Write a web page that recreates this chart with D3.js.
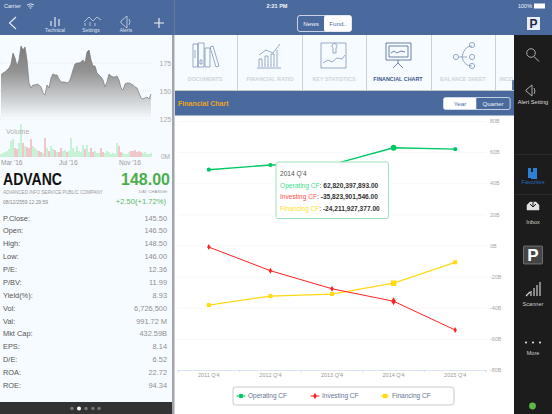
<!DOCTYPE html>
<html><head><meta charset="utf-8">
<script src="https://cdnjs.cloudflare.com/ajax/libs/d3/7.8.5/d3.min.js"></script>
<style>
html,body{margin:0;padding:0;background:#fff;overflow:hidden}
svg{display:block}
text{font-family:"Liberation Sans",Arial,sans-serif}
</style></head><body>
<svg id="s" width="552" height="414"></svg>
<script>
// ---- main chart data
const periods = ["2011 Q'4","2012 Q'4","2013 Q'4","2014 Q'4","2015 Q'4"];
const operatingCF = [48700000000,51700000000,52000000000,62820397893,61900000000];
const investingCF = [-1000000000,-16200000000,-27800000000,-35823901546,-54300000000];
const financingCF = [-38300000000,-32500000000,-31200000000,-24211927377,-10800000000];
const yTicks = [80,60,40,20,0,-20,-40,-60,-80];
const highlightIndex = 3;
// ---- mini chart data
const closePrices = [164.3,166.1,167,168.8,170.5,174.1,183.9,179.5,172.3,177.7,190.2,186.6,189.3,177.7,157.1,152.7,155.4,155.4,156.3,155.4,153.6,148.2,146.4,155.4,152.7,161.6,165.2,164.3,164.3,160.7,158,158,158,157.1,158,162.5,168.8,174.1,175,175,175.9,177.7,175,184.8,186.6,177.7,172.3,172.3,166.1,164.3,162.5,159.8,153.6,158,165.2,163.4,162.5,162.5,163.4,159.8,152.7,150.9,156.3,157.1,157.1,156.3,155.4,153.6,152.7,148.2,143.8,142.9,143.8,144.6,142.9,147.3];
const volumes = [3,4,5,6,8,16,18,9,8,14,33,14,11,10,9,18,11,9,7,6,5,4,19,9,6,11,8,7,5,5,9,6,7,5,6,19,9,5,11,6,5,12,8,12,5,9,5,6,4,4,9,5,4,6,5,3,4,3,14,11,5,4,3,3,5,6,6,7,5,6,5,4,5,3,3,4];
const priceTicks = [175,150,125];
const monthLabels = [["Mar '16",0],["Jul '16",29],["Nov '16",59]];
const statLabels = ["P.Close:","Open:","High:","Low:","P/E:","P/BV:","Yield(%):","Vol:","Val:","Mkt Cap:","EPS:","D/E:","ROA:","ROE:"];
const statValues = ["145.50","146.50","148.50","146.00","12.36","11.99","8.93","6,726,500","991.72 M","432.59B","8.14","6.52","22.72","94.34"];
const tabNames = ["DOCUMENTS","FINANCIAL RATIO","KEY STATISTICS","FINANCIAL CHART","BALANCE SHEET","INCOME"];
const sideItems = [["Alert Setting",104,"#ddd"],["Favorites",184,"#2468b8"],["Inbox",224,"#ccc"],["Scanner",306,"#ccc"],["More",355,"#ccc"]];

const BLUE="#4a6a9e", svg=d3.select("#s");
const rect=(p,x,y,w,h,f,extra={})=>{const r=p.append("rect").attr("x",x).attr("y",y).attr("width",w).attr("height",h).attr("fill",f);for(const k in extra)r.attr(k,extra[k]);return r;};
const text=(p,x,y,t,size,fill,anchor="start",weight="normal")=>p.append("text").attr("x",x).attr("y",y).attr("font-size",size).attr("fill",fill).attr("text-anchor",anchor).attr("font-weight",weight).text(t);
const path=(p,d,stroke,w=1,fill="none")=>p.append("path").attr("d",d).attr("stroke",stroke).attr("stroke-width",w).attr("fill",fill);

// Backgrounds
rect(svg,0,0,552,414,"#fff");
rect(svg,0,0,552,35,BLUE);
rect(svg,0,35,172,368,"#f6fbff");
rect(svg,0,402,172,12,"#333");
rect(svg,172,0,2.5,414,"#8a8f96").attr("opacity",.8);
rect(svg,172,0,2,35,BLUE);
rect(svg,175,35,339,55,"#f6fbff");
rect(svg,175,91,339,24.5,BLUE);
rect(svg,514,35,38,379,"#1c1c1c");
rect(svg,512,80,2,35,BLUE).attr("opacity",.9);

// Status + nav
text(svg,4,8,"Carrier",5.5,"#e6ecf5");
path(svg,"M27 5 q3.5 -2.5 7 0 M28.5 6.5 q2 -1.5 4 0","#e6ecf5",.9);
svg.append("circle").attr("cx",30.5).attr("cy",8).attr("r",.8).attr("fill","#e6ecf5");
text(svg,277,8,"2:21 PM",5.5,"#f2f5fa","middle","bold");
text(svg,518,8,"100%",5.5,"#f2f5fa");
rect(svg,534,3.5,11,5,"#fff");
rect(svg,527,17,13,13,"#e9edf5");
text(svg,533.5,28,"P",12,"#1c2b4a","middle","bold");
path(svg,"M16 17 L9.5 23 L16 29","#e8eef6",1.1);
path(svg,"M154 23 h10 M159 18 v10","#f0f4fa",1.1);
path(svg,"M51 21 v5 M55 17 v10 M59 19 v7","#dfe6f2",1.2);
text(svg,55,32,"Technical",4.8,"#dfe6f2","middle");
path(svg,"M84 22 l5 -5 l4 4 l4 -4 l4 3 M85 26v-3 M90 26v-4 M95 26v-3","#dfe6f2",.7);
text(svg,91,32,"Settings",4.8,"#dfe6f2","middle");
path(svg,"M121 21 l6 -5 v12 l-6 -5 z M129 19 q2 3 0 6","#dfe6f2",.7);
text(svg,126,32,"Alerts",4.8,"#dfe6f2","middle");

// News / Fund segmented control
rect(svg,297.5,15.5,54,16,"none",{stroke:"#e8eef6","stroke-width":.8,rx:2.5});
rect(svg,324,15.5,27.5,16,"#fff",{rx:2});
text(svg,311,25.5,"News",6.2,"#f0f4fa","middle");
text(svg,338,25.5,"Fund..",6.2,BLUE,"middle");

// Tabs
const tabCx=[205,270,334,398,463,499];
tabNames.forEach((n,i)=>{
  const g=svg.append("g");
  if(i<5) text(g,tabCx[i],81,n,5.4,i===3?"#3c5a8c":"#cfd4da","middle","bold");
  else text(g,499.5,81,"INCO",5.4,"#cfd4da","start","bold");
});
[237,302,366,431,495].forEach(x=>rect(svg,x,35,.8,55,"#c2c7cc"));
rect(svg,175,90,339,1,"#c2c7cc");
path(svg,"M193 44 h5 v23 h-5 z M198 43 h6 v24 h-6 z M205 48 h5 v19 h-5 z M210 47 l3 -1 l6 20 l-3 1 z M200 60 h2 v4 h-2z M195 50 v8","#7088b0",.7);
path(svg,"M257 68 h24 M259 67 v-8 h3 v8 M265 67 v-11 h3 v11 M271 67 v-13 h3 v13 M277 67 v-17 M259 55 l7 -5 l7 3 l7 -9","#7088b0",.7);
path(svg,"M321 43 h25 v25 h-25 z M323 63 l5 -3 l4 2 l5 -4 l5 1 l3 -4 M333 48 a2.5 2.5 0 1 1 3 0 v5 h-3 z","#7088b0",.7);
path(svg,"M386 43 h25 v17 h-25 z M389 46 h19 v11 h-19 z M391 53 l3 -2 l3 2 l4 -2 l4 1 M398 60 v3 M398 63 l-5 5 M398 63 l5 5","#4a6690",.8);
path(svg,"M459 57 h3 q2 -11 10 -11 M462 57 h5 M462 57 q2 9 10 9","#7088b0",.7);
[[472,45],[472,57],[472,66],[456,57]].forEach(c=>svg.append("circle").attr("cx",c[0]).attr("cy",c[1]).attr("r",2.6).attr("fill","none").attr("stroke","#7088b0").attr("stroke-width",.7));

// Header
text(svg,178,106,"Financial Chart",7,"#e8a51f","start","bold");
rect(svg,443.5,97.5,66.5,12,"#fff",{rx:2,stroke:"#e8eef6","stroke-width":.6});
path(svg,"M476 97.5 h32 q2 0 2 2 v8 q0 2 -2 2 h-32 z","#e8eef6",.6,BLUE);
text(svg,460,106,"Year",6.2,BLUE,"middle");
text(svg,493,106,"Quarter",6.2,"#eef2f8","middle");

// ---- main chart
const x=d3.scaleBand().domain(periods).range([178,486]);
const y=d3.scaleLinear().domain([-80,80]).range([370,121]);
const cx=d=>x(d)+x.bandwidth()/2;
const chart=svg.append("g");
const yAxis=d3.axisRight(y).tickValues(yTicks).tickSize(308).tickFormat(d=>d+"B");
const gy=chart.append("g").attr("transform","translate(178,0)").call(yAxis);
gy.select(".domain").remove();
gy.selectAll("line").attr("stroke","#f3f3f3").attr("stroke-width",.7);
gy.selectAll("text").attr("x",312).attr("font-size",5.4).attr("fill","#a8a8a8").attr("font-family","Liberation Sans");
gy.selectAll(".tick").filter(d=>d===-80).select("line").attr("stroke","none");
const xAxis=d3.axisBottom(x).tickSize(2);
const gx=chart.append("g").attr("transform","translate(0,370)").call(xAxis);
gx.select(".domain").attr("stroke","#cfdcf0").attr("stroke-width",.8);
gx.selectAll(".tick line").attr("stroke","#cfdcf0").attr("transform",`translate(${-x.bandwidth()/2},0)`);
gx.selectAll("text").attr("font-size",5.5).attr("fill","#999").attr("dy",1.5).attr("font-family","Liberation Sans");
gx.append("line").attr("x1",486).attr("x2",486).attr("y1",0).attr("y2",2).attr("stroke","#cfdcf0");

const line=d3.line().x((d,i)=>cx(periods[i])).y(d=>y(d/1e9));
const series=[
 {name:"Operating CF",values:operatingCF,color:"#00c864",text:"#3fdc8c",sym:d3.symbolCircle,s:14,w:1.4},
 {name:"Investing CF",values:investingCF,color:"#ff2020",text:"#ff4d4d",sym:d3.symbolDiamond,s:10,w:1},
 {name:"Financing CF",values:financingCF,color:"#ffd912",text:"#ffe02a",sym:d3.symbolSquare,s:16,w:1.2}
];
series.slice().reverse().forEach(s=>{
  const g=chart.append("g");
  g.append("path").attr("d",line(s.values)).attr("fill","none").attr("stroke",s.color).attr("stroke-width",s.w);
  g.selectAll("path.m").data(s.values).enter().append("path").attr("class","m")
    .attr("transform",(d,i)=>`translate(${cx(periods[i])},${y(d/1e9)})`)
    .attr("d",(d,i)=>d3.symbol().type(s.sym).size(i===highlightIndex?s.s*1.9:s.s)())
    .attr("fill",s.color);
});

// Tooltip
const tip=svg.append("g");
rect(tip,276,162,112.5,56.5,"#fff",{rx:2,stroke:"#9fe0bd","stroke-width":1});
const fmt=d3.format(",.2f");
text(tip,280,175.5,periods[highlightIndex],6.6,"#555");
series.forEach((s,i)=>{
  const t=tip.append("text").attr("x",280).attr("y",187.6+i*11.8).attr("font-size",6.6);
  t.append("tspan").attr("fill",s.text).text(s.name);
  t.append("tspan").attr("fill","#333").text(": ");
  t.append("tspan").attr("fill","#333").attr("font-weight","bold").text(fmt(s.values[highlightIndex]).replace("\u2212","-"));
});

// Legend
const legendX=[241,315,385];
rect(svg,233,387,221,18,"#fff",{rx:2.5,stroke:"#bbb","stroke-width":.8});
series.forEach((s,i)=>{
  const g=svg.append("g");
  g.append("line").attr("x1",legendX[i]-4.5).attr("x2",legendX[i]+4.5).attr("y1",396).attr("y2",396).attr("stroke",s.color).attr("stroke-width",1);
  g.append("path").attr("transform",`translate(${legendX[i]},396)`).attr("d",d3.symbol().type(s.sym).size(s.s*1.2)()).attr("fill",s.color);
  text(g,legendX[i]+7,398.2,s.name,6.5,"#5f7594");
});

// ---- mini price chart
const defs=svg.append("defs");
const grad=defs.append("linearGradient").attr("id","pg").attr("x1",0).attr("x2",0).attr("y1",0).attr("y2",1);
grad.append("stop").attr("offset","0%").attr("stop-color","#7b7b7b");
grad.append("stop").attr("offset","35%").attr("stop-color","#939393");
grad.append("stop").attr("offset","100%").attr("stop-color","#f6fbff");
const px=d3.scaleLinear().domain([0,closePrices.length-1]).range([1,151]);
const py=d3.scaleLinear().domain([125,175]).range([119,63]);
priceTicks.forEach(v=>{
  svg.append("line").attr("x1",0).attr("x2",151).attr("y1",py(v)).attr("y2",py(v)).attr("stroke","#ccc").attr("stroke-width",.5).attr("stroke-dasharray","1,1.5");
  text(svg,159.5,py(v)+2.5,v,7,"#aaa");
});
svg.append("path").datum(closePrices).attr("fill","url(#pg)")
  .attr("d",d3.area().x((d,i)=>px(i)).y0(py(125)).y1(d=>py(d)));
svg.append("path").datum(closePrices).attr("fill","none").attr("stroke","#777").attr("stroke-width",.7)
  .attr("d",d3.line().x((d,i)=>px(i)).y(d=>py(d)));
const vy=d3.scaleLinear().domain([0,33]).range([157,124]);
svg.selectAll("rect.v").data(volumes).enter().append("rect").attr("class","v")
  .attr("x",(d,i)=>px(i)-.7).attr("width",1.4).attr("y",d=>vy(d)).attr("height",d=>vy(0)-vy(d))
  .attr("fill",(d,i)=>i>0&&closePrices[i]<closePrices[i-1]&&d>4?"#f0b0b6":"#b4eec4");
text(svg,6,134,"Volume",7,"#b0b0b0");
text(svg,161,159,"0M",6.5,"#aaa");
monthLabels.forEach(m=>text(svg,px(m[1]),165,m[0],6.5,"#999"));

// ---- quote panel
text(svg,3,185,"ADVANC",16,"#111","start","bold").attr("textLength",59).attr("lengthAdjust","spacingAndGlyphs");
text(svg,170,185,"148.00",16,"#4cae4c","end","bold");
text(svg,3,194,"ADVANCED INFO SERVICE PUBLIC COMPANY",4.55,"#9a9a9a");
text(svg,168,193,"DAY CHANGE:",4.3,"#9a9a9a","end");
text(svg,3,204,"08/12/2559 12:29:59",4.9,"#888");
text(svg,166,204,"+2.50(+1.72%)",7.6,"#5cb85c","end");
statLabels.forEach((l,i)=>{
  const by=220.6+i*12.87;
  text(svg,3,by,l,7.4,"#555");
  text(svg,167,by,statValues[i],7.4,"#8f8f8f","end");
});
[72,79,86,93,99].forEach((c,i)=>svg.append("circle").attr("cx",c).attr("cy",408.5).attr("r",i===1?2:1.7).attr("fill",i===1?"#fff":"#777"));

// ---- sidebar
sideItems.forEach(d=>text(svg,533,d[1],d[0],5.6,d[2],"middle"));
rect(svg,514,154,38,.7,"#333"); rect(svg,514,194,38,.7,"#333");
svg.append("circle").attr("cx",531).attr("cy",53).attr("r",4.3).attr("fill","none").attr("stroke","#ccc").attr("stroke-width",.8);
path(svg,"M534 56.5 l5 5","#ccc",.9);
path(svg,"M526 90 l6 -5 v11 l-6 -5 z M534 88 q2 3 0 6","#ccc",.8);
rect(svg,528,168,3,10,"#2f7fd6"); rect(svg,533,168,4,4,"#2f7fd6"); rect(svg,531,172,6,7,"#2f7fd6");
path(svg,"M527 205 l3 -3 h6 l3 3 v5 h-12 z","#e0e0e0",.5,"#e0e0e0");
path(svg,"M533 199 v7 M530 204 l3 3 l3 -3","#1c1c1c",1);
rect(svg,523.5,246,19,18,"#444",{stroke:"#999","stroke-width":.6,rx:1});
text(svg,533,261,"P",17,"#fff","middle","bold");
path(svg,"M526 296 l4 -4 M531 296 v-5 M534 296 v-8 M537 296 v-11 M540 296 v-14","#ddd",1.1);
[526,533,540].forEach(c=>svg.append("circle").attr("cx",c).attr("cy",342.5).attr("r",1.1).attr("fill","#ddd"));
svg.append("circle").attr("cx",532.5).attr("cy",406).attr("r",3.4).attr("fill","#5cb947");
</script>
</body></html>
